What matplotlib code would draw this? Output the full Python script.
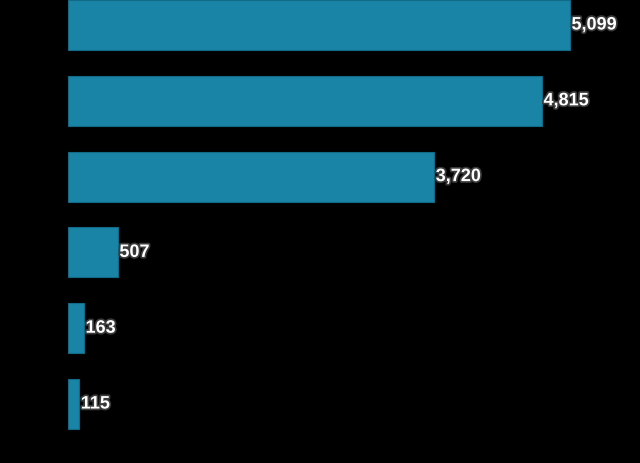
import matplotlib.pyplot as plt
import matplotlib.patheffects as pe

# values, top to bottom
labels = ["a", "b", "c", "d", "e", "f"]
values = [5099, 4815, 3720, 507, 163, 115]

fig = plt.figure(figsize=(6.4, 4.63), dpi=100, facecolor="black")
ax = fig.add_axes([68 / 640, 0, 1 - 68 / 640, 1])
ax.set_facecolor("black")

pos = list(range(len(values)))
ax.barh(pos, values, height=0.66, color="#1984a6", edgecolor="#126a86", linewidth=0.8)

for p, v in zip(pos, values):
    ax.text(v + 15, p, f"{v:,}", va="center", ha="left", color="white",
            fontsize=13, fontweight="bold", family="Liberation Sans",
            path_effects=[pe.withStroke(linewidth=2.5, foreground="#3a3a3a")])

ax.set_xlim(0, 5810)
ax.set_ylim(5.778, -0.33)
ax.axis("off")

fig.savefig("out.png", dpi=100, facecolor="black")
